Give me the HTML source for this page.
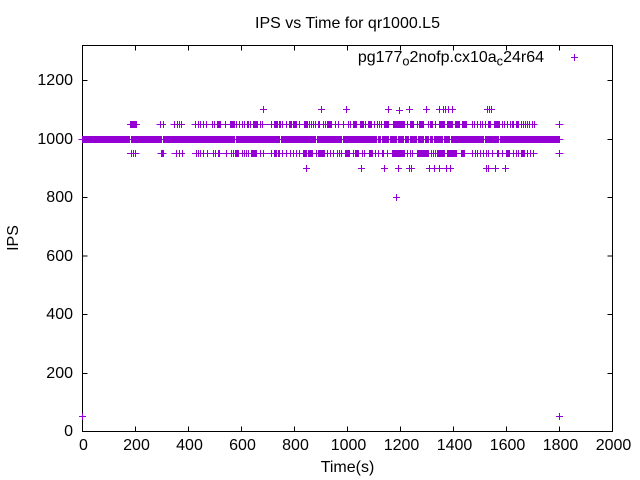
<!DOCTYPE html>
<html><head><meta charset="utf-8"><style>
html,body{margin:0;padding:0;background:#fff;}
svg{display:block;}
text{font-family:"Liberation Sans",Arial,sans-serif;font-size:16px;fill:#000;}
</style></head><body>
<svg width="640" height="480" viewBox="0 0 640 480" xmlns="http://www.w3.org/2000/svg">
<rect x="0" y="0" width="640" height="480" fill="#fff"/>
<!-- border and ticks -->
<g stroke="#000" stroke-width="1" fill="none">
<rect x="82.5" y="45.5" width="530" height="386"/>
<path d="M82.5 431.5h5M82.5 373.5h5M82.5 314.5h5M82.5 256h5M82.5 197.5h5M82.5 139.5h5M82.5 80.5h5
M612.5 431.5h-5M612.5 373.5h-5M612.5 314.5h-5M612.5 256h-5M612.5 197.5h-5M612.5 139.5h-5M612.5 80.5h-5
M82.5 431.5v-5M135.5 431.5v-5M188.5 431.5v-5M241.5 431.5v-5M294.5 431.5v-5M347.5 431.5v-5M400.5 431.5v-5M453.5 431.5v-5M506.5 431.5v-5M559.5 431.5v-5M612.5 431.5v-5
M82.5 45.5v5M135.5 45.5v5M188.5 45.5v5M241.5 45.5v5M294.5 45.5v5M347.5 45.5v5M400.5 45.5v5M453.5 45.5v5M506.5 45.5v5M559.5 45.5v5M612.5 45.5v5"/>
</g>
<!-- tick labels -->
<g text-anchor="end">
<text x="73" y="436">0</text>
<text x="73" y="378">200</text>
<text x="73" y="319">400</text>
<text x="73" y="261">600</text>
<text x="73" y="202">800</text>
<text x="73" y="144">1000</text>
<text x="73" y="85">1200</text>
</g>
<g text-anchor="middle">
<text x="83.5" y="450">0</text>
<text x="136.5" y="450">200</text>
<text x="189.5" y="450">400</text>
<text x="242.5" y="450">600</text>
<text x="295.5" y="450">800</text>
<text x="348.5" y="450">1000</text>
<text x="401.5" y="450">1200</text>
<text x="454.5" y="450">1400</text>
<text x="507.5" y="450">1600</text>
<text x="560.5" y="450">1800</text>
<text x="613.5" y="450">2000</text>
<text x="347.5" y="28">IPS vs Time for qr1000.L5</text>
<text x="347.5" y="472">Time(s)</text>
<text x="0" y="0" transform="translate(18,238) rotate(-90)">IPS</text>
</g>
<text x="544" y="62" text-anchor="end">pg177<tspan font-size="12.8" dy="3.3">o</tspan><tspan dy="-3.3">2nofp.cx10a</tspan><tspan font-size="12.8" dy="3.3">c</tspan><tspan dy="-3.3">24r64</tspan></text>

<!-- data -->
<g fill="#9400D3">
<rect x="82" y="136" width="478" height="7"/>
<!-- 1050 blocks -->
<rect x="130" y="121" width="6" height="7"/><rect x="217" y="121" width="4" height="7"/><rect x="230" y="121" width="5" height="7"/><rect x="253" y="121" width="5" height="7"/><rect x="274" y="121" width="4" height="7"/><rect x="289" y="121" width="3" height="7"/><rect x="293" y="121" width="4" height="7"/><rect x="304" y="121" width="4" height="7"/><rect x="327" y="121" width="5" height="7"/><rect x="353" y="121" width="4" height="7"/><rect x="360" y="121" width="4" height="7"/><rect x="368" y="121" width="4" height="7"/><rect x="384" y="121" width="5" height="7"/><rect x="393" y="121" width="12" height="7"/><rect x="410" y="121" width="4" height="7"/><rect x="419" y="121" width="5" height="7"/><rect x="430" y="121" width="3" height="7"/><rect x="439" y="121" width="6" height="7"/><rect x="447" y="121" width="6" height="7"/><rect x="455" y="121" width="5" height="7"/><rect x="463" y="121" width="4" height="7"/><rect x="488" y="121" width="3" height="7"/><rect x="494" y="121" width="6" height="7"/><rect x="516" y="121" width="3" height="7"/>
<!-- 950 blocks -->
<rect x="161" y="150" width="3" height="7"/><rect x="218" y="150" width="2" height="7"/><rect x="235" y="150" width="4" height="7"/><rect x="251" y="150" width="6" height="7"/><rect x="274" y="150" width="3" height="7"/><rect x="303" y="150" width="4" height="7"/><rect x="308" y="150" width="5" height="7"/><rect x="318" y="150" width="7" height="7"/><rect x="345" y="150" width="5" height="7"/><rect x="355" y="150" width="4" height="7"/><rect x="369" y="150" width="4" height="7"/><rect x="392" y="150" width="13" height="7"/><rect x="417" y="150" width="12" height="7"/><rect x="437" y="150" width="8" height="7"/><rect x="448" y="150" width="9" height="7"/><rect x="461" y="150" width="4" height="7"/><rect x="506" y="150" width="4" height="7"/><rect x="521" y="150" width="4" height="7"/>
</g>
<!-- gaps in 1000 band -->
<g fill="#fff">
<rect x="130" y="136" width="1" height="3"/><rect x="130" y="140" width="1" height="3"/>
<rect x="162" y="136" width="1" height="3"/><rect x="162" y="140" width="1" height="3"/>
<rect x="235" y="136" width="1" height="3"/><rect x="235" y="140" width="1" height="3"/>
<rect x="280" y="136" width="1" height="3"/><rect x="280" y="140" width="1" height="3"/>
<rect x="316" y="136" width="1" height="3"/><rect x="316" y="140" width="1" height="3"/>
<rect x="342" y="136" width="1" height="3"/><rect x="342" y="140" width="1" height="3"/>
<rect x="377" y="136" width="1" height="3"/><rect x="377" y="140" width="1" height="3"/>
<rect x="381" y="136" width="1" height="3"/><rect x="381" y="140" width="1" height="3"/>
<rect x="389" y="136" width="1" height="3"/><rect x="389" y="140" width="1" height="3"/>
<rect x="397" y="136" width="1" height="3"/><rect x="397" y="140" width="1" height="3"/>
<rect x="404" y="136" width="1" height="3"/><rect x="404" y="140" width="1" height="3"/>
<rect x="409" y="136" width="1" height="3"/><rect x="409" y="140" width="1" height="3"/>
<rect x="417" y="136" width="1" height="3"/><rect x="417" y="140" width="1" height="3"/>
<rect x="424" y="136" width="1" height="3"/><rect x="424" y="140" width="1" height="3"/>
<rect x="429" y="136" width="1" height="3"/><rect x="429" y="140" width="1" height="3"/>
<rect x="433" y="136" width="1" height="3"/><rect x="433" y="140" width="1" height="3"/>
<rect x="443" y="136" width="1" height="3"/><rect x="443" y="140" width="1" height="3"/>
<rect x="450" y="136" width="1" height="3"/><rect x="450" y="140" width="1" height="3"/>
<rect x="484" y="136" width="1" height="3"/><rect x="484" y="140" width="1" height="3"/>
<rect x="499" y="136" width="1" height="3"/><rect x="499" y="140" width="1" height="3"/>
</g>
<g stroke="#9400D3" stroke-width="1" fill="none">
<!-- band arms -->
<path d="M78.5 139.5H82M560 139.5H563.5"/>
<!-- 1050 arms -->
<path d="M127 124.5H140M156.5 124.5H166M170.5 124.5H185M191.5 124.5H537.5M555.5 124.5H563.5"/>
<!-- 950 arms -->
<path d="M127 153.5H139.5M157.5 153.5H166.5M171.5 153.5H185M192 153.5H537.5M555.5 153.5H563.5"/>
<!-- 1050 ticks -->
<path d="M136.5 121v7M160.5 121v7M163.5 121v7M174.5 121v7M177.5 121v7M179.5 121v7M181.5 121v7M195.5 121v7M198.5 121v7M200.5 121v7M203.5 121v7M206.5 121v7M212.5 121v7M214.5 121v7M225.5 121v7M236.5 121v7M239.5 121v7M242.5 121v7M244.5 121v7M247.5 121v7M248.5 121v7M250.5 121v7M260.5 121v7M262.5 121v7M271.5 121v7M279.5 121v7M280.5 121v7M282.5 121v7M286.5 121v7M299.5 121v7M309.5 121v7M311.5 121v7M313.5 121v7M315.5 121v7M318.5 121v7M319.5 121v7M323.5 121v7M325.5 121v7M335.5 121v7M338.5 121v7M343.5 121v7M348.5 121v7M350.5 121v7M365.5 121v7M374.5 121v7M377.5 121v7M379.5 121v7M381.5 121v7M407.5 121v7M417.5 121v7M428.5 121v7M435.5 121v7M462.5 121v7M472.5 121v7M474.5 121v7M477.5 121v7M480.5 121v7M482.5 121v7M485.5 121v7M502.5 121v7M504.5 121v7M507.5 121v7M510.5 121v7M512.5 121v7M513.5 121v7M521.5 121v7M523.5 121v7M525.5 121v7M527.5 121v7M529.5 121v7M532.5 121v7M534.5 121v7M559.5 121v7"/>
<!-- 950 ticks -->
<path d="M131.5 150v7M133.5 150v7M135.5 150v7M176.5 150v7M179.5 150v7M182.5 150v7M196.5 150v7M198.5 150v7M200.5 150v7M203.5 150v7M207.5 150v7M213.5 150v7M215.5 150v7M226.5 150v7M231.5 150v7M233.5 150v7M242.5 150v7M244.5 150v7M246.5 150v7M248.5 150v7M260.5 150v7M263.5 150v7M271.5 150v7M278.5 150v7M279.5 150v7M282.5 150v7M286.5 150v7M290.5 150v7M293.5 150v7M296.5 150v7M299.5 150v7M316.5 150v7M327.5 150v7M330.5 150v7M333.5 150v7M337.5 150v7M339.5 150v7M341.5 150v7M353.5 150v7M362.5 150v7M364.5 150v7M375.5 150v7M378.5 150v7M382.5 150v7M383.5 150v7M387.5 150v7M407.5 150v7M410.5 150v7M412.5 150v7M431.5 150v7M433.5 150v7M435.5 150v7M447.5 150v7M472.5 150v7M475.5 150v7M477.5 150v7M480.5 150v7M483.5 150v7M486.5 150v7M488.5 150v7M492.5 150v7M497.5 150v7M498.5 150v7M502.5 150v7M513.5 150v7M516.5 150v7M518.5 150v7M527.5 150v7M530.5 150v7M533.5 150v7M559.5 150v7"/>
<!-- 1100 points -->
<path d="M260 109.5h7M263.5 106v7M318 109.5h7M321.5 106v7M343 109.5h7M346.5 106v7M385 109.5h7M388.5 106v7M396 110.5h7M399.5 107v7M406 109.5h7M409.5 106v7M423 109.5h7M426.5 106v7M436 109.5h7M439.5 106v7M440 109.5h7M443.5 106v7M442 109.5h7M445.5 106v7M445 109.5h7M448.5 106v7M449 109.5h7M452.5 106v7M484 109.5h7M487.5 106v7M486 109.5h7M489.5 106v7M488 109.5h7M491.5 106v7"/>
<!-- 900 points -->
<path d="M303 168.5h7M306.5 165v7M358 168.5h7M361.5 165v7M381 168.5h7M384.5 165v7M395 168.5h7M398.5 165v7M406 168.5h7M409.5 165v7M408 168.5h7M411.5 165v7M426 168.5h7M429.5 165v7M431 168.5h7M434.5 165v7M436 168.5h7M439.5 165v7M443 168.5h7M446.5 165v7M447 168.5h7M450.5 165v7M483 168.5h7M486.5 165v7M485 168.5h7M488.5 165v7M492 168.5h7M495.5 165v7M502 168.5h7M505.5 165v7"/>
<!-- 800, key, 50 -->
<path d="M393 197.5h7M396.5 194v7M571 57.5h7M574.5 54v7M79 416.5h7M82.5 413v7M556 416.5h7M559.5 413v7"/>
</g>
</svg>
</body></html>
